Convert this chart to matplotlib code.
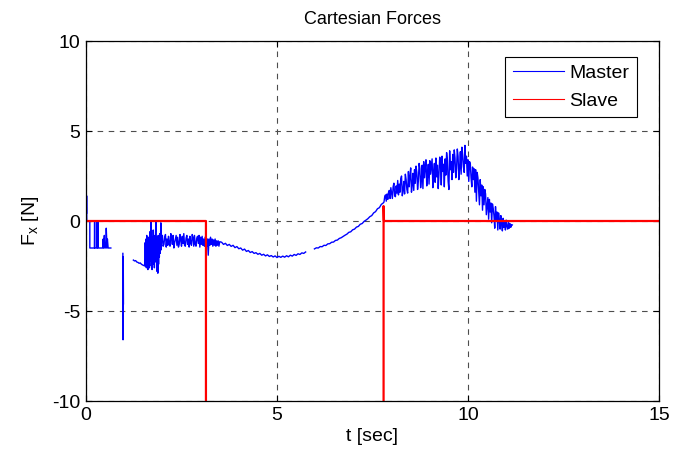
import numpy as np
import matplotlib
matplotlib.use("Agg")
import matplotlib.pyplot as plt

plt.rcParams['font.family'] = ['Liberation Sans', 'DejaVu Sans']
plt.rcParams['axes.unicode_minus'] = False

# ---------------- data ----------------
# Master: start-up spike and plateau
t_m1 = [0.0, 0.004, 0.008, 0.012, 0.016, 0.02, 0.05, 0.1, 0.1, 0.22, 0.225, 0.23,
        0.28, 0.29, 0.30, 0.31, 0.32, 0.33, 0.40, 0.44, 0.45, 0.46, 0.48, 0.49,
        0.50, 0.52, 0.53, 0.55, 0.56, 0.58, 0.65]
f_m1 = [10.0, 0.6, 1.7, 0.4, 1.4, 0.0, 0.0, 0.0, -1.5, -1.5, 0.0, -1.5,
        -1.5, 0.0, -1.5, 0.0, -1.5, -1.5, -1.5, -1.5, -1.0, -1.5, -0.8, -1.5,
        -1.2, -1.5, -0.4, -1.5, -1.0, -1.5, -1.5]

# Master: isolated spike near t = 1 s
t_m2 = [0.965, 0.970, 0.975, 0.980]
f_m2 = [-1.8, -6.6, -2.0, -4.6]

# Master: slope then large noise burst
t_m3a = [1.24, 1.27, 1.30, 1.33, 1.36, 1.39, 1.42, 1.45, 1.48, 1.51, 1.54]
f_m3a = [-2.17, -2.22, -2.20, -2.28, -2.30, -2.35, -2.33, -2.40, -2.44, -2.47, -2.50]

t_m3b_start, t_m3b_step = 1.55, 0.01
f_m3b = [-1.2, -2.5, -1.0, -2.6, -0.8, -2.4, -1.5, -2.7, -0.9, -2.3,
         -1.1, -2.6, -0.6, -2.2, -1.3, -0.05, -2.5, -0.9, -2.7, -1.0,
         -2.1, -0.5, -2.4, -0.8, -2.6, -1.2, -2.2, -0.7, -0.05, -2.3,
         -0.9, -2.8, -1.1, -2.9, -0.8, -2.4, -1.0, -2.0, -0.7, -1.8,
         -1.0, -0.1, -1.6, -0.9]

t_m3c_start, t_m3c_step = 2.00, 0.02
f_m3c = [-0.8, -1.4, -1.3, -0.9, -0.75, -1.45, -1.0, -1.35, -0.85, -1.25,
         -1.4, -0.7, -0.95, -1.3, -0.8, -1.5, -1.2, -1.0, -0.8, -1.35,
         -0.9, -1.45, -1.3, -0.75, -1.05, -1.4, -0.85, -1.25, -0.7, -1.35,
         -1.4, -0.95, -0.8, -1.3, -1.0, -1.45, -0.85, -1.2, -1.35, -0.75,
         -0.9, -1.4, -0.8, -1.3, -1.4, -0.95, -0.85, -1.25, -0.8, -1.45,
         -0.9, -1.3, -0.85, -1.35, -1.0, -1.4, -0.9,
         -0.9, -1.4, -1.0, -1.9, -1.0, -1.35, -0.9, -1.3, -1.0, -1.4,
         -1.05, -1.35, -1.0, -1.4, -1.1, -1.35, -1.1, -1.4, -1.15]

t_m3d_start, t_m3d_step = 3.55, 0.05
f_m3d = [-1.18, -1.30, -1.24, -1.36, -1.30, -1.41, -1.35, -1.48, -1.42, -1.54,
         -1.50, -1.62, -1.56, -1.69, -1.64, -1.75, -1.70, -1.80, -1.76, -1.85,
         -1.80, -1.90, -1.85, -1.94, -1.88, -1.97, -1.92, -2.00, -1.94, -2.03,
         -1.96, -2.02, -1.95, -2.01, -1.93, -1.99, -1.90, -1.95, -1.86, -1.91,
         -1.82, -1.86, -1.77, -1.80, -1.72]

# Master: rising part after the gap
t_m4a_start, t_m4a_step = 5.98, 0.05
f_m4a = [-1.55, -1.49, -1.50, -1.42, -1.43, -1.35, -1.36, -1.27, -1.26, -1.18,
         -1.17, -1.08, -1.06, -0.97, -0.93, -0.86, -0.79, -0.73, -0.63, -0.60,
         -0.49, -0.45, -0.34, -0.30, -0.18, -0.14, -0.02, 0.05, 0.13, 0.24,
         0.30, 0.45, 0.52, 0.68, 0.74, 0.92, 1.00]

# Master: noisy hump
t_m4b_start, t_m4b_step = 7.80, 0.02
f_m4b = [1.05, 1.35, 1.45, 1.10, 1.50, 1.20, 1.60, 1.70, 1.25, 1.85,
         1.55, 1.25, 1.90, 2.10, 1.40, 1.35, 1.95, 1.55, 2.25, 1.45,
         2.05, 1.60, 2.35, 2.50, 1.40, 1.70, 2.20, 1.50, 2.60, 2.30,
         1.75, 1.55, 2.75, 1.90, 2.50, 2.95, 1.60, 2.00, 2.65, 1.70,
         2.85, 2.10, 3.05, 2.70, 1.75, 2.20, 3.20, 2.90, 1.85, 2.30,
         3.10, 1.80, 3.30, 2.40, 2.95, 3.40, 1.95, 2.50, 3.15, 2.05,
         3.35, 2.60, 3.00, 3.45, 1.85, 2.70, 3.20, 2.15, 3.50, 2.45,
         3.10, 1.80, 2.60, 3.55, 3.25, 2.00, 3.60, 2.75, 3.15, 1.90,
         3.45, 2.55, 3.80, 3.40, 2.20, 1.75, 3.90, 2.85, 3.30, 2.30,
         3.70, 2.70, 3.95, 3.50, 2.40, 2.90, 4.00, 3.60, 2.30, 2.95,
         3.85, 2.60, 4.10, 3.70, 3.00, 2.70, 4.20, 3.20, 3.60, 2.50,
         3.40, 2.20, 3.30, 3.20, 2.40, 1.90, 3.00, 2.30, 2.90, 1.60,
         2.85, 1.10, 2.70, 2.40, 1.60, 0.90, 2.30, 1.40, 2.00, 0.60,
         1.90, 0.90, 1.75, 1.50, 0.35, 0.80, 1.30, 0.10, 1.20, 0.50,
         1.00, -0.10, 0.95, 0.70, 0.30, -0.40, 0.80, 0.10, 0.50, -0.50,
         0.45, 0.10, -0.45, 0.30, -0.20, -0.55, 0.15, -0.35, -0.10, -0.50,
         0.05, -0.30, -0.45, -0.05, -0.40, -0.15, -0.35, -0.20, -0.22]

# Slave
t_slave = [0.0, 3.14, 3.14, np.nan, 7.79, 7.79, 7.80, 15.0]
f_slave = [0.0, 0.0, -10.5, np.nan, -10.5, 0.83, 0.0, 0.0]

x_ticks = [0, 5, 10, 15]
y_ticks = [-10, -5, 0, 5, 10]


def seg(start, step, vals):
    return start + step * np.arange(len(vals)), np.asarray(vals, float)


segments = [
    (np.asarray(t_m1), np.asarray(f_m1)),
    (np.asarray(t_m2), np.asarray(f_m2)),
    (np.asarray(t_m3a), np.asarray(f_m3a)),
    seg(t_m3b_start, t_m3b_step, f_m3b),
    seg(t_m3c_start, t_m3c_step, f_m3c),
    seg(t_m3d_start, t_m3d_step, f_m3d),
    seg(t_m4a_start, t_m4a_step, f_m4a),
    seg(t_m4b_start, t_m4b_step, f_m4b),
]
t_master, f_master = [], []
breaks = {1, 2, 6}  # NaN gap before these segments
for i, (tt, ff) in enumerate(segments):
    if i in breaks:
        t_master.append(np.array([np.nan]))
        f_master.append(np.array([np.nan]))
    t_master.append(tt)
    f_master.append(ff)
t_master = np.concatenate(t_master)
f_master = np.concatenate(f_master)

# ---------------- plot ----------------
fig = plt.figure(figsize=(6.73, 4.54), dpi=100)
ax = fig.add_axes([86 / 673, 1 - 401 / 454, 573 / 673, 360 / 454])

ax.plot(t_master, f_master, color='#0000ff', lw=1.0, label='Master', zorder=3)
ax.plot(t_slave, f_slave, color='#ff0000', lw=1.6, label='Slave', zorder=4)

ax.set_xlim(0, 15)
ax.set_ylim(-10, 10)
ax.set_xticks(x_ticks)
ax.set_yticks(y_ticks)
ax.tick_params(direction='in', top=True, right=True, length=4, width=0.8,
               labelsize=14, pad=4, colors='black')
ax.grid(True, color='0.3', linestyle=(0, (5, 5)), linewidth=0.8)
for s in ax.spines.values():
    s.set_linewidth(0.9)
    s.set_zorder(5)

ax.set_title('Cartesian Forces', fontsize=13, pad=12)
ax.set_xlabel('t [sec]', fontsize=14, labelpad=3)
ax.set_ylabel(r'F$_\mathregular{x}$ [N]', fontsize=14, labelpad=8)

leg = ax.legend(loc='upper right', bbox_to_anchor=(0.962, 0.956),
                borderaxespad=0, fontsize=14, handlelength=2.6,
                handletextpad=0.3, labelspacing=0.5, borderpad=0.4,
                fancybox=False, framealpha=1, edgecolor='black')
leg.get_frame().set_linewidth(0.8)
for line in leg.get_lines():
    line.set_linewidth(0.8)

fig.savefig('out.png', dpi=100)
